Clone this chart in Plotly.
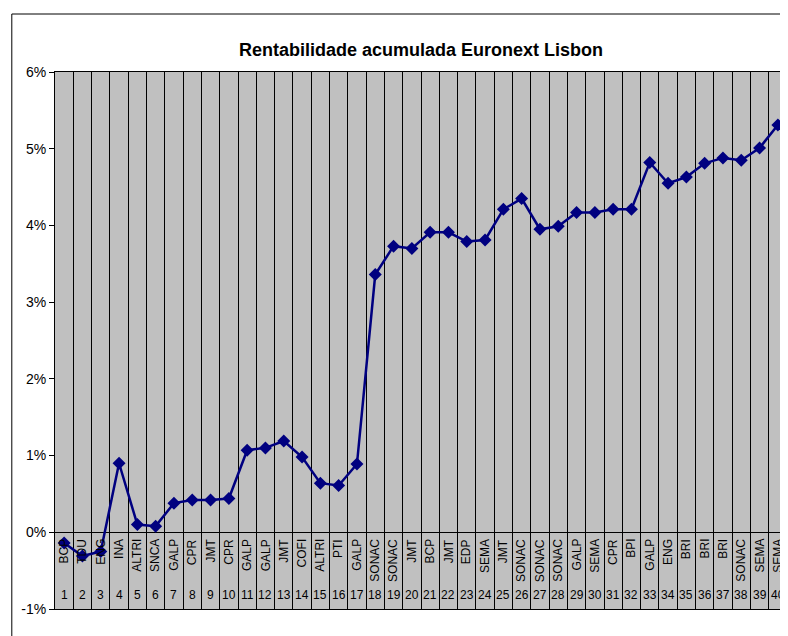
import plotly.graph_objects as go

idx = list(range(1, 41))
names = ["BCP","TDU","ENG","INA","ALTRI","SNCA","GALP","CPR","JMT","CPR",
         "GALP","GALP","JMT","COFI","ALTRI","PTI","GALP","SONAC","SONAC","JMT",
         "BCP","JMT","EDP","SEMA","JMT","SONAC","SONAC","SONAC","GALP","SEMA",
         "CPR","BPI","GALP","ENG","BRI","BRI","BRI","SONAC","SEMA","SEMA"]
values = [-0.14,-0.31,-0.25,0.90,0.10,0.08,0.38,0.42,0.42,0.44,
          1.07,1.10,1.19,0.98,0.64,0.61,0.89,3.36,3.73,3.70,
          3.91,3.91,3.79,3.81,4.21,4.35,3.95,3.99,4.17,4.17,
          4.21,4.21,4.82,4.55,4.63,4.81,4.88,4.85,5.01,5.31]
yticks = [-1, 0, 1, 2, 3, 4, 5, 6]

fig = go.Figure(go.Scatter(x=idx, y=values, mode="lines+markers",
    line=dict(color="#000080", width=2.5),
    marker=dict(symbol="diamond", size=10, color="#000080")))

ann = []
for i, n in zip(idx, names):
    ann.append(dict(x=i, y=-0.06, text=n, textangle=-90, showarrow=False,
                    yanchor="top", xanchor="center", font=dict(size=12, color="black")))
    ann.append(dict(x=i, y=-0.82, text=str(i), showarrow=False,
                    yanchor="middle", xanchor="center", font=dict(size=12, color="black")))

fig.update_layout(
    width=788, height=636,
    margin=dict(l=47, r=9, t=64, b=35, autoexpand=False),
    paper_bgcolor="white", plot_bgcolor="#C0C0C0",
    font=dict(family="Liberation Sans, Arial", color="black"),
    title=dict(text="<b>Rentabilidade acumulada Euronext Lisbon</b>", x=0.5, xanchor="center",
               xref="paper", y=0.945, font=dict(size=18)),
    showlegend=False,
    annotations=ann,
    xaxis=dict(range=[0.5, 40.5], tickvals=[i + 0.5 for i in range(0, 41)], showticklabels=False,
               showgrid=True, gridcolor="black", gridwidth=1, zeroline=False,
               showline=True, linecolor="black", mirror=True, ticks="", automargin=False),
    yaxis=dict(range=[-1, 6], tickvals=yticks, ticktext=[f"{v}%" for v in yticks],
               showgrid=False, zeroline=True, zerolinecolor="black", zerolinewidth=1,
               showline=True, linecolor="black", mirror=True, ticks="outside",
               ticklen=5, tickcolor="black", tickfont=dict(size=14), automargin=False),
    shapes=[dict(type="rect", xref="paper", yref="paper", x0=-0.059, x1=1.008, y0=-0.054, y1=1.108,
                 line=dict(color="black", width=1))],
)
fig.write_html("out.html")
